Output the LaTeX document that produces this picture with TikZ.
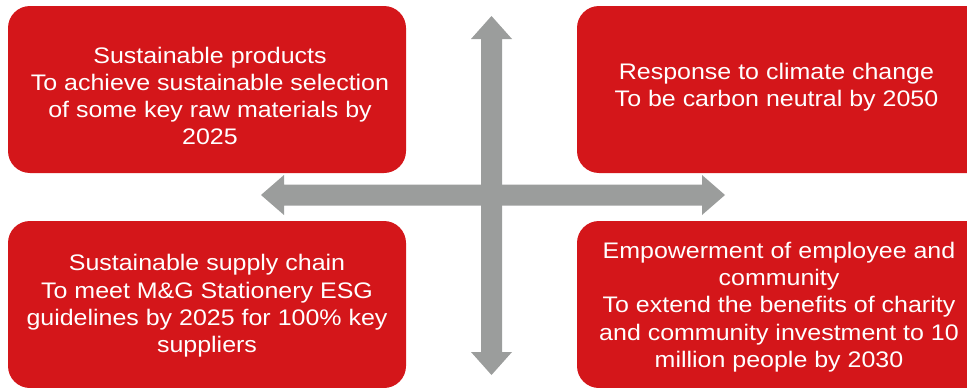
\documentclass[tikz,border=0pt]{standalone}
\usepackage{fontspec}
\setmainfont{Liberation Sans}[FakeStretch=1.11]
\definecolor{boxred}{RGB}{212,22,26}
\definecolor{arrgray}{RGB}{155,157,156}
\begin{document}
\begin{tikzpicture}[x=1pt,y=-1pt,
  goalbox/.style={fill=boxred, draw=none, rounded corners=22pt, inner sep=0pt,
    text=white, align=center, font=\fontsize{22.5}{27.3}\selectfont},
  arrowshape/.style={fill=arrgray, draw=none}]
\useasboundingbox (0,0) rectangle (967,388);
\clip (0,0) rectangle (967,388);
% boxes
\node[goalbox, minimum width=398pt, minimum height=167pt] (tl) at (207,89.5) {};
\node[goalbox, minimum width=413pt, minimum height=167pt] (tr) at (783.5,89.5) {};
\node[goalbox, minimum width=398pt, minimum height=167pt] (bl) at (207,304.5) {};
\node[goalbox, minimum width=413pt, minimum height=167pt] (br) at (783.5,304.5) {};
% texts
\node[goalbox, fill=none] (tlt) at (210,96) {Sustainable products\\To achieve sustainable selection\\of some key raw materials by\\2025};
\node[goalbox, fill=none] (trt) at (776.5,87) {Response to climate change\\To be carbon neutral by 2050};
\node[goalbox, fill=none] (blt) at (207,306) {Sustainable supply chain\\To meet M\&G Stationery ESG\\guidelines by 2025 for 100\% key\\suppliers};
\node[goalbox, fill=none] (brt) at (779,307) {Empowerment of employee and\\community\\To extend the benefits of charity\\and community investment to 10\\million people by 2030};
% arrows
\coordinate (hl) at (261,195);
\coordinate (hr) at (725,195);
\coordinate (vt) at (491.5,16);
\coordinate (vb) at (491.5,375);
\fill[arrowshape] (hl) -- (284,175) -- (284,184.5) -- (702,184.5) -- (702,175) -- (hr)
  -- (702,215) -- (702,205.5) -- (284,205.5) -- (284,215) -- cycle;
\fill[arrowshape] (vt) -- (512,39) -- (502,39) -- (502,352) -- (512,352) -- (vb)
  -- (471,352) -- (481,352) -- (481,39) -- (471,39) -- cycle;
\end{tikzpicture}
\end{document}
